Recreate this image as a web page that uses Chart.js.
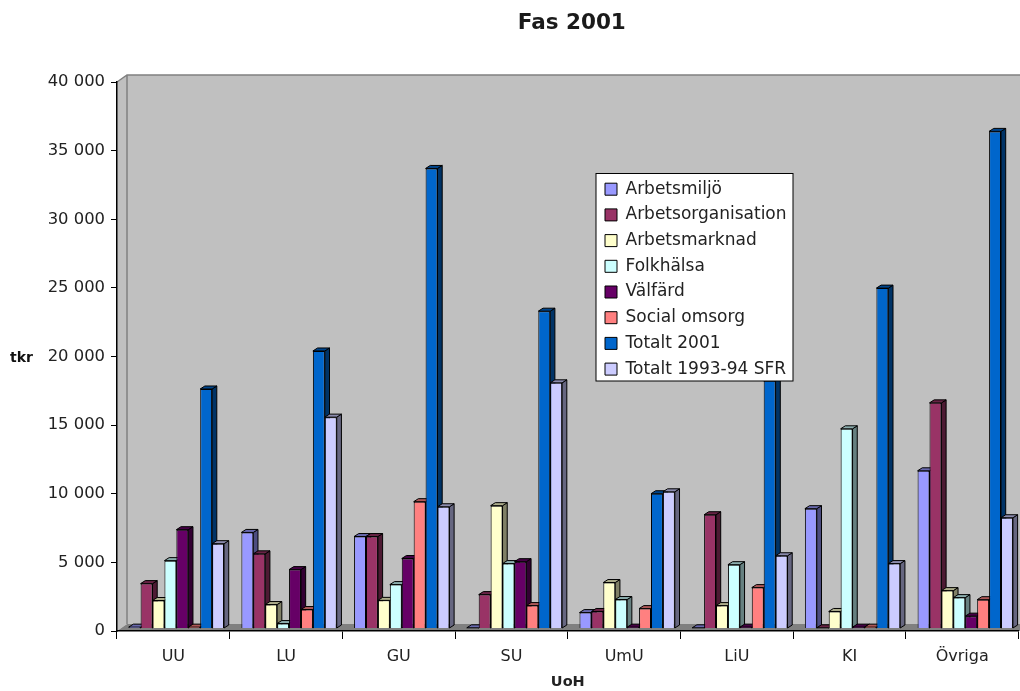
<!DOCTYPE html>
<html><head><meta charset="utf-8">
<style>html,body{margin:0;padding:0;background:#fff}canvas{display:block}</style>
<script src="https://cdn.jsdelivr.net/npm/chart.js@4"></script>
</head><body><canvas id="c" width="1020" height="691"></canvas>
<script>
const categories = ["UU","LU","GU","SU","UmU","LiU","KI","Övriga"];
const arbetsmiljo = [100,7000,6700,50,1160,50,8730,11490];
const arbetsorganisation = [3270,5440,6700,2470,1240,8290,50,16440];
const arbetsmarknad = [2040,1745,2050,8950,3350,1670,1240,2760];
const folkhalsa = [4945,360,3200,4730,2110,4650,14550,2250];
const valfard = [7200,4290,5100,4870,100,100,100,900];
const socialOmsorg = [100,1380,9240,1670,1450,2980,100,2100];
const totalt2001 = [17450,20220,33520,23120,9820,18050,24800,36220];
const totalt199394 = [6180,15400,8870,17900,9960,5300,4730,8070];
const seriesNames = ["Arbetsmiljö","Arbetsorganisation","Arbetsmarknad","Folkhälsa","Välfärd","Social omsorg","Totalt 2001","Totalt 1993-94 SFR"];
const seriesColors = ["#9999FF","#993366","#FFFFCC","#CCFFFF","#660066","#FF8080","#0066CC","#CCCCFF"];
const seriesValues = [arbetsmiljo,arbetsorganisation,arbetsmarknad,folkhalsa,valfard,socialOmsorg,totalt2001,totalt199394];
const FONT = '"DejaVu Sans", Verdana, sans-serif';

function shade(hex,f){
  const n=parseInt(hex.slice(1),16);
  return `rgb(${Math.round((n>>16)*f)},${Math.round(((n>>8)&255)*f)},${Math.round((n&255)*f)})`;
}
const WALL={dx:10,dy:-7}, SHIFT={dx:3,dy:-2.5}, DEPTH={dx:4.7,dy:-3};

function drawDepth(chart,i){
  const {ctx}=chart, color=seriesColors[i];
  ctx.save();
  ctx.strokeStyle='#000';ctx.lineWidth=1;
  chart.getDatasetMeta(i).data.forEach(el=>{
    const {x,y,base,width}=el.getProps(['x','y','base','width'],true);
    const l=x-width/2,r=x+width/2;
    ctx.fillStyle=shade(color,0.5);
    ctx.beginPath();
    ctx.moveTo(r,y);ctx.lineTo(r+DEPTH.dx,y+DEPTH.dy);ctx.lineTo(r+DEPTH.dx,base+DEPTH.dy);ctx.lineTo(r,base);ctx.closePath();
    ctx.fill();ctx.stroke();
    ctx.fillStyle=shade(color,0.68);
    ctx.beginPath();
    ctx.moveTo(l,y);ctx.lineTo(l+DEPTH.dx,y+DEPTH.dy);ctx.lineTo(r+DEPTH.dx,y+DEPTH.dy);ctx.lineTo(r,y);ctx.closePath();
    ctx.fill();ctx.stroke();
  });
  ctx.restore();
}

const threeD={
  id:'threeD',
  beforeDraw(chart){
    const {ctx,chartArea:a}=chart;
    ctx.save();
    ctx.fillStyle='#C0C0C0';
    ctx.fillRect(a.left+WALL.dx,a.top+WALL.dy,chart.width,a.bottom-a.top);
    ctx.beginPath();
    ctx.moveTo(a.left,a.top);ctx.lineTo(a.left+WALL.dx,a.top+WALL.dy);
    ctx.lineTo(a.left+WALL.dx,a.bottom+WALL.dy);ctx.lineTo(a.left,a.bottom);ctx.closePath();
    ctx.fill();
    ctx.strokeStyle='#808080';ctx.lineWidth=1.5;
    ctx.beginPath();
    ctx.moveTo(a.left,a.top);ctx.lineTo(a.left+WALL.dx,a.top+WALL.dy);
    ctx.lineTo(chart.width,a.top+WALL.dy);
    ctx.moveTo(a.left+WALL.dx,a.top+WALL.dy);ctx.lineTo(a.left+WALL.dx,a.bottom+WALL.dy);
    ctx.stroke();
    ctx.fillStyle='#808080';
    ctx.beginPath();
    ctx.moveTo(a.left,a.bottom);ctx.lineTo(a.left+WALL.dx,a.bottom+WALL.dy);
    ctx.lineTo(chart.width,a.bottom+WALL.dy);ctx.lineTo(chart.width,a.bottom);ctx.closePath();
    ctx.fill();
    ctx.restore();
  },
  afterLayout(chart){
    const l=chart.legend;
    if(l){ l.left=596.3; l.top=172; l.right=l.left+l.width; l.bottom=l.top+300; }
    const t=chart.titleBlock;
    if(t){ t.left+=4; t.right+=4; }
  },
  beforeDatasetsDraw(chart){
    const {ctx}=chart;
    ctx.save();
    ctx.translate(SHIFT.dx,SHIFT.dy);
    seriesNames.forEach((_,i)=>{
      drawDepth(chart,i);
      chart.getDatasetMeta(i).controller.draw();
    });
    ctx.restore();
    ctx.save();
    ctx.fillStyle='#fff';ctx.strokeStyle='#000';ctx.lineWidth=1;
    ctx.fillRect(596,173.5,197,207.5);
    ctx.strokeRect(596,173.5,197,207.5);
    ctx.restore();
    chart.legend.draw();
    ctx.save();
    ctx.font='bold 14px '+FONT;
    ctx.fillStyle='#111';ctx.textAlign='left';ctx.textBaseline='middle';
    ctx.fillText('tkr',10,358);
    ctx.restore();
    return false;
  }
};

new Chart(document.getElementById('c'),{
  type:'bar',
  data:{labels:categories,datasets:seriesNames.map((name,i)=>({
    label:name,data:seriesValues[i],backgroundColor:seriesColors[i],
    borderColor:'#000',borderWidth:1,
    categoryPercentage:0.846,barPercentage:1
  }))},
  options:{
    responsive:false,animation:false,devicePixelRatio:1,
    layout:{padding:{left:0,right:1.4,top:0,bottom:0}},
    plugins:{
      title:{display:true,text:'Fas 2001',fullSize:false,color:'#1a1a1a',
        font:{family:FONT,size:21.5,weight:'bold'},padding:{top:11,bottom:45.2}},
      legend:{display:true,position:'chartArea',align:'start',
        labels:{color:'#222',font:{family:FONT,size:17},boxWidth:12,boxHeight:12,padding:8.7}},
      tooltip:{enabled:false}
    },
    scales:{
      x:{
        afterFit(s){s.height=60;},
        grid:{display:true,drawOnChartArea:false,drawTicks:true,tickLength:8,color:'#000'},
        border:{color:'#000',width:1.5},
        ticks:{color:'#222',font:{family:FONT,size:16},padding:8,maxRotation:0},
        title:{display:true,text:'UoH',color:'#222',font:{family:FONT,size:14.5,weight:'bold'},padding:{top:0,bottom:0}}
      },
      y:{
        min:0,max:40000,
        afterFit(s){s.width=117;},
        grid:{display:true,drawOnChartArea:false,drawTicks:true,tickLength:6,color:'#000'},
        border:{color:'#000',width:1.5},
        ticks:{stepSize:5000,color:'#222',font:{family:FONT,size:16.4},padding:6,
          callback:v=>String(v).replace(/\B(?=(\d{3})+$)/g,' ')}
      }
    }
  },
  plugins:[threeD]
});
</script></body></html>
